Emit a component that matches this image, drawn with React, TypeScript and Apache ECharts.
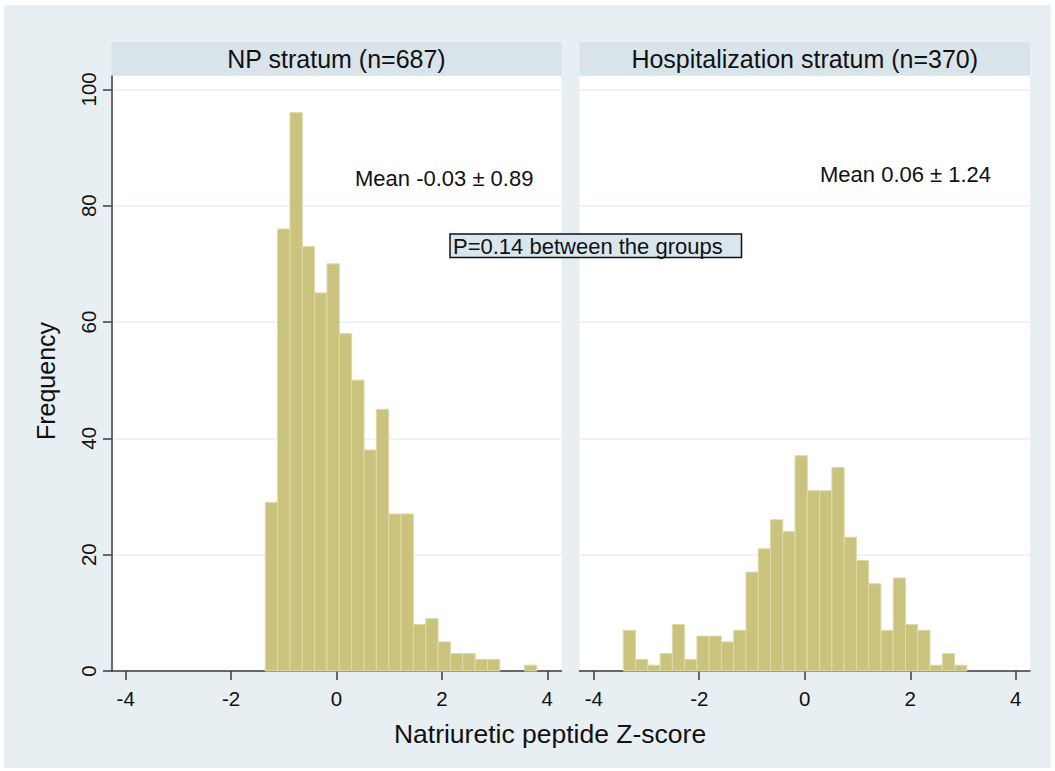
import React, { useEffect, useRef } from 'react';
import * as echarts from 'echarts';

// ---- data ----
const panelTitles = ['NP stratum (n=687)', 'Hospitalization stratum (n=370)'];
const meanLabels = ['Mean -0.03 \u00b1 0.89', 'Mean 0.06 \u00b1 1.24'];
const pLabel = 'P=0.14 between the groups';
const xTitle = 'Natriuretic peptide Z-score';
const yTitle = 'Frequency';
const xTicks = [-4, -2, 0, 2, 4];
const yTicks = [0, 20, 40, 60, 80, 100];

// NP stratum histogram: first bin edge, bin width, counts per bin
const npBinStart = -1.352;
const npBinWidth = 0.2343;
const npCounts = [29, 76, 96, 73, 65, 70, 58, 50, 38, 45, 27, 27, 8, 9, 5, 3, 3, 2, 2, 0, 0, 1];

// Hospitalization stratum histogram
const hospBinStart = -3.44;
const hospBinWidth = 0.2326;
const hospCounts = [7, 2, 1, 3, 8, 2, 6, 6, 5, 7, 17, 21, 26, 24, 37, 31, 31, 35, 23, 19, 15, 7, 16, 8, 7, 1, 3, 1];

const FONT = '"Liberation Sans", Arial, Helvetica, sans-serif';
const AXIS_COLOR = '#3a3a3a';
const GRID_COLOR = '#e8eff2';
const STRIP_COLOR = '#d8e4ea';
const BAR_FILL = '#cac37d';
const BAR_STROKE = '#dfdaa9';

function binsToData(start: number, width: number, counts: number[]) {
  return counts.map((c, i) => [start + i * width, start + (i + 1) * width, c]);
}

const X_MIN = -4.27;
const X_MAX = 4.27;
const Y_MAX = 102.3;

const panels = [
  { left: 111.5, width: 450 },
  { left: 579.5, width: 450.5 },
];
const GRID_TOP = 76;
const GRID_H = 595;

export default function App() {
  const ref = useRef<HTMLDivElement>(null);

  useEffect(() => {
    if (!ref.current) return;
    const chart = echarts.init(ref.current, undefined, { renderer: 'svg' });

    const datasets = [
      binsToData(npBinStart, npBinWidth, npCounts),
      binsToData(hospBinStart, hospBinWidth, hospCounts),
    ];

    const renderItem = (params: any, api: any) => {
      const x0 = api.value(0);
      const x1 = api.value(1);
      const c = api.value(2);
      if (!c) return null;
      const p0 = api.coord([x0, 0]);
      const p1 = api.coord([x1, c]);
      return {
        type: 'rect',
        shape: { x: p0[0], y: p1[1], width: p1[0] - p0[0], height: p0[1] - p1[1] },
        style: { fill: BAR_FILL, stroke: BAR_STROKE, lineWidth: 1 },
      };
    };

    const graphic: any[] = [];
    panels.forEach((p, i) => {
      graphic.push({
        type: 'rect',
        shape: { x: p.left, y: 42, width: p.width, height: 33.5 },
        style: { fill: STRIP_COLOR },
        silent: true,
      });
      graphic.push({
        type: 'text',
        x: p.left + p.width / 2,
        y: 58.5,
        style: {
          text: panelTitles[i],
          fontSize: 25,
          fontFamily: FONT,
          fill: '#111',
          align: 'center',
          verticalAlign: 'middle',
        },
      });
    });

    graphic.push({
      type: 'text',
      x: 355,
      y: 178,
      style: { text: meanLabels[0], fontSize: 22, fontFamily: FONT, fill: '#111', align: 'left', verticalAlign: 'middle' },
    });
    graphic.push({
      type: 'text',
      x: 820,
      y: 174,
      style: { text: meanLabels[1], fontSize: 22, fontFamily: FONT, fill: '#111', align: 'left', verticalAlign: 'middle' },
    });
    graphic.push({
      type: 'rect',
      shape: { x: 450, y: 234, width: 291.5, height: 23.5 },
      style: { fill: '#dae6ed', stroke: '#111', lineWidth: 1.5 },
      z: 10,
    });
    graphic.push({
      type: 'text',
      x: 453,
      y: 246.5,
      z: 11,
      style: { text: pLabel, fontSize: 22, fontFamily: FONT, fill: '#111', align: 'left', verticalAlign: 'middle' },
    });
    graphic.push({
      type: 'text',
      x: 550,
      y: 734,
      style: { text: xTitle, fontSize: 26.5, fontFamily: FONT, fill: '#111', align: 'center', verticalAlign: 'middle' },
    });
    graphic.push({
      type: 'text',
      x: 46,
      y: 381,
      rotation: Math.PI / 2,
      style: { text: yTitle, fontSize: 25, fontFamily: FONT, fill: '#111', align: 'center', verticalAlign: 'middle' },
    });

    const option: any = {
      animation: false,
      backgroundColor: 'transparent',
      textStyle: { fontFamily: FONT },
      grid: panels.map((p) => ({
        left: p.left,
        top: GRID_TOP,
        width: p.width,
        height: GRID_H,
        show: true,
        backgroundColor: '#ffffff',
        borderWidth: 0,
        containLabel: false,
      })),
      xAxis: panels.map((p, i) => ({
        type: 'value',
        gridIndex: i,
        min: X_MIN,
        max: X_MAX,
        splitLine: { show: false },
        axisLine: { show: true, onZero: false, lineStyle: { color: AXIS_COLOR, width: 1.5 } },
        axisTick: { show: true, customValues: xTicks, length: 9, lineStyle: { color: AXIS_COLOR, width: 1.5 } },
        axisLabel: {
          customValues: xTicks,
          fontSize: 20.5,
          fontFamily: FONT,
          color: '#111',
          margin: 17,
          formatter: (v: number) => String(v),
        },
      })),
      yAxis: panels.map((p, i) => ({
        type: 'value',
        gridIndex: i,
        min: 0,
        max: Y_MAX,
        interval: 20,
        splitLine: { show: true, lineStyle: { color: GRID_COLOR, width: 1.5 } },
        axisLine: { show: i === 0, onZero: false, lineStyle: { color: AXIS_COLOR, width: 1.5 } },
        axisTick: { show: i === 0, customValues: yTicks, length: 8.5, lineStyle: { color: AXIS_COLOR, width: 1.5 } },
        axisLabel: {
          show: i === 0,
          customValues: yTicks,
          rotate: 90,
          fontSize: 20.5,
          fontFamily: FONT,
          color: '#111',
          margin: 13,
          formatter: (v: number) => String(v),
        },
      })),
      series: datasets.map((d, i) => ({
        type: 'custom',
        xAxisIndex: i,
        yAxisIndex: i,
        data: d,
        encode: { x: [0, 1], y: 2 },
        renderItem,
        clip: false,
      })),
      graphic,
    };

    chart.setOption(option);
    return () => chart.dispose();
  }, []);

  return (
    <div style={{ position: 'fixed', left: 0, top: 0, width: 1055, height: 771, background: '#ffffff' }}>
      <div style={{ position: 'absolute', left: 4, top: 5, width: 1047, height: 763, background: '#e8eff2' }} />
      <div ref={ref} style={{ position: 'absolute', left: 0, top: 0, width: 1055, height: 771 }} />
    </div>
  );
}
